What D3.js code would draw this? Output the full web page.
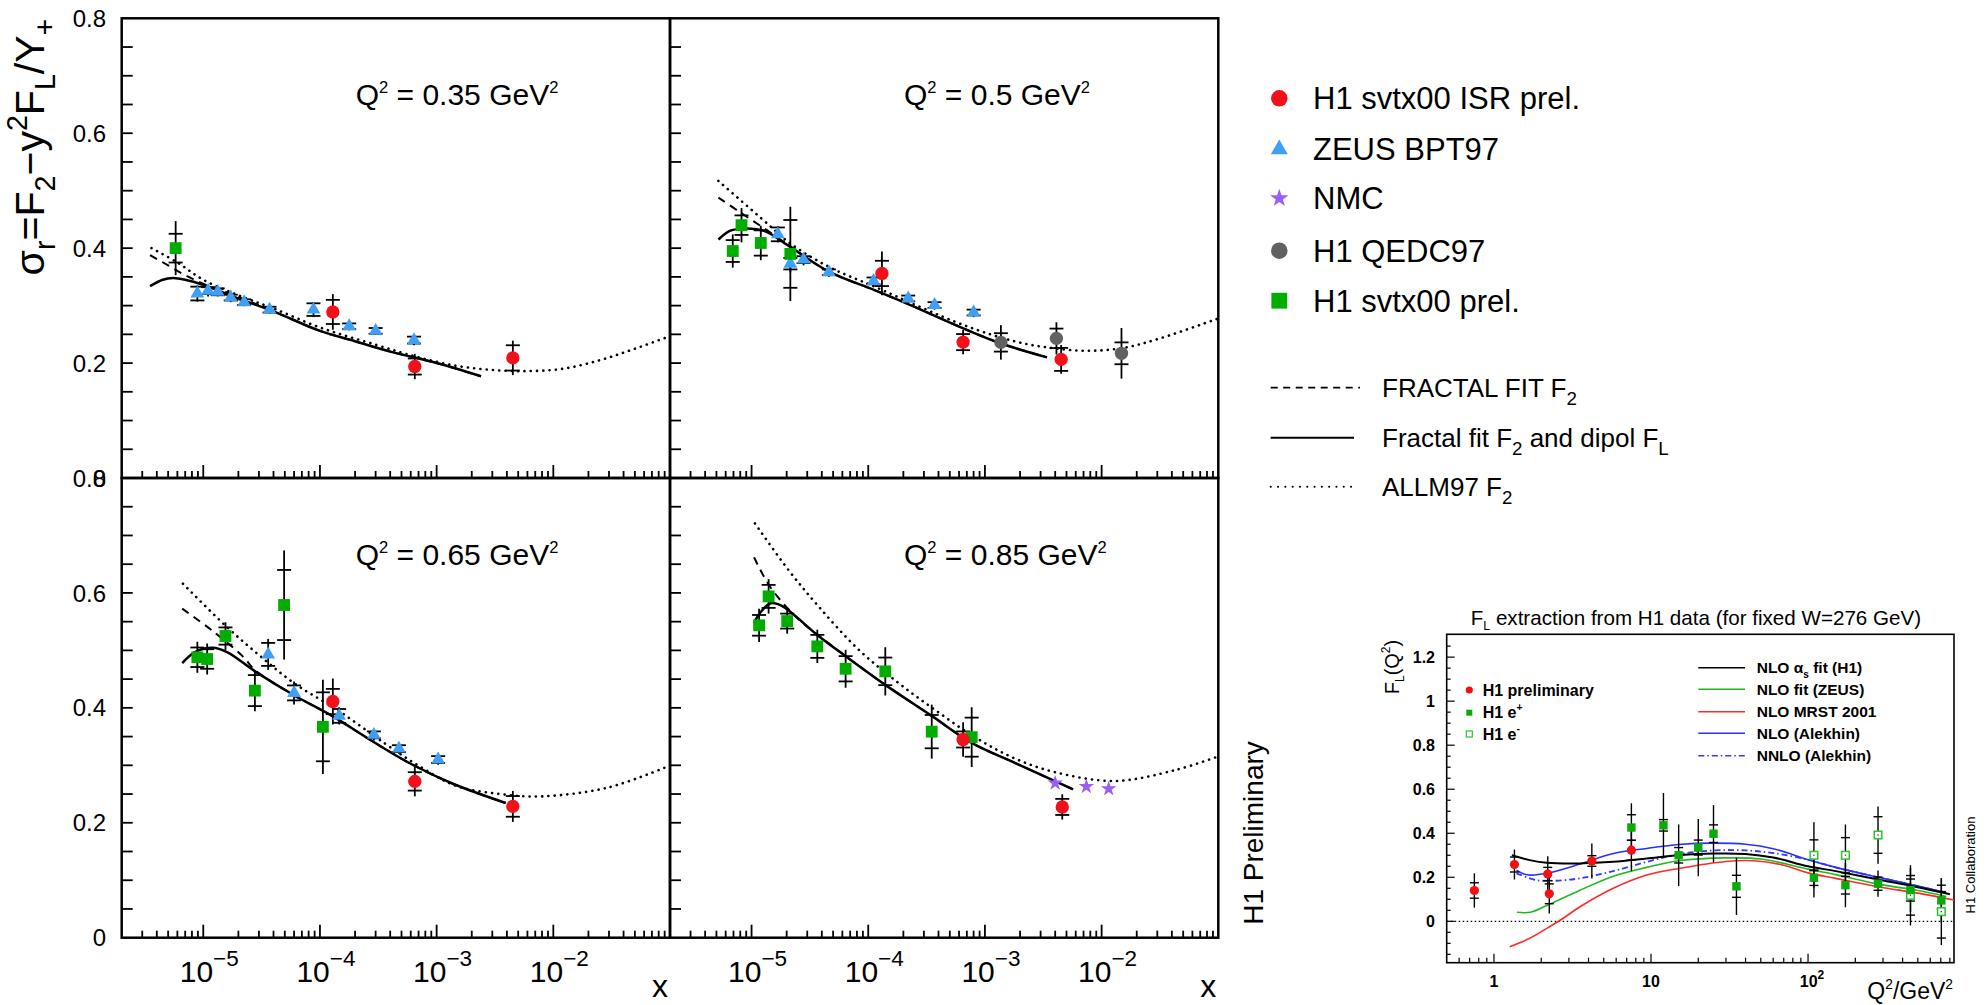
<!DOCTYPE html>
<html>
<head>
<meta charset="utf-8">
<title>Reduced cross section at low Q2 and FL extraction</title>
<script src="https://cdn.jsdelivr.net/npm/d3@7/dist/d3.min.js"></script>
<style>
  html,body{margin:0;padding:0;background:#fff;}
  svg{display:block;}
  text{font-family:"Liberation Sans",Arial,Helvetica,sans-serif;fill:#000;}
</style>
</head>
<body>
<svg id="chart" width="1988" height="1005"></svg>
<script>
// ===== reduced cross section sigma_r versus x =====
// measured points: [x, sigma_r, stat error, total error]
// model curves:    [x, sigma_r]

// Q2 = 0.35 GeV2
const q035_isr  = [[1.29e-4,0.289,0.021,0.031],[6.5e-4,0.194,0.014,0.022],[4.5e-3,0.209,0.022,0.030]];
const q035_zeus = [[8.9e-6,0.321,0.012,0.014],[1.1e-5,0.326,0.006,0.010],[1.33e-5,0.324,0.006,0.008],[1.72e-5,0.314,0.005,0.008],[2.24e-5,0.306,0.005,0.007],[3.7e-5,0.293,0.005,0.007],[8.8e-5,0.293,0.011,0.013],[1.78e-4,0.264,0.005,0.007],[3.0e-4,0.256,0.005,0.007],[6.4e-4,0.240,0.006,0.009]];
const q035_nmc  = [];
const q035_qedc = [];
const q035_svtx = [[5.8e-6,0.400,0.025,0.047]];
const q035_dipol   = [[3.5e-6,0.334],[4.5e-6,0.345],[5.5e-6,0.348],[7e-6,0.345],[1e-5,0.336],[2e-5,0.312],[4e-5,0.290],[1e-4,0.256],[2e-4,0.238],[4e-4,0.220],[1e-3,0.200],[2.4e-3,0.177]];
const q035_fractal = [[3.5e-6,0.388],[5e-6,0.370],[7e-6,0.353],[1e-5,0.338],[1.5e-5,0.325]];
const q035_allm    = [[3.6e-6,0.400],[6e-6,0.375],[1e-5,0.345],[2e-5,0.318],[4e-5,0.295],[1e-4,0.262],[3e-4,0.232],[7e-4,0.210],[1.5e-3,0.195],[3e-3,0.188],[6e-3,0.186],[1.2e-2,0.190],[2.5e-2,0.205],[5e-2,0.225],[0.1,0.247]];

// Q2 = 0.5 GeV2
const q050_isr  = [[1.31e-4,0.356,0.022,0.038],[6.5e-4,0.2365,0.014,0.021],[4.5e-3,0.2064,0.020,0.025]];
const q050_zeus = [[1.68e-5,0.424,0.012,0.014],[2.15e-5,0.373,0.010,0.015],[2.79e-5,0.380,0.006,0.010],[4.6e-5,0.358,0.005,0.008],[1.11e-4,0.343,0.006,0.010],[2.2e-4,0.3125,0.005,0.008],[3.7e-4,0.301,0.005,0.008],[8.0e-4,0.288,0.005,0.008]];
const q050_nmc  = [];
const q050_qedc = [[1.37e-3,0.236,0.016,0.030],[4.1e-3,0.243,0.017,0.028],[1.48e-2,0.217,0.019,0.044]];
const q050_svtx = [[6.9e-6,0.395,0.019,0.029],[8.2e-6,0.440,0.017,0.030],[1.2e-5,0.409,0.022,0.030],[2.15e-5,0.390,0.059,0.082]];
const q050_dipol   = [[5.2e-6,0.415],[6.5e-6,0.430],[8.3e-6,0.434],[1.1e-5,0.433],[1.36e-5,0.428],[2.15e-5,0.402],[4.6e-5,0.359],[1.13e-4,0.327],[2.3e-4,0.301],[6.6e-4,0.260],[1.38e-3,0.234],[3.4e-3,0.210]];
const q050_fractal = [[5.2e-6,0.488],[8.3e-6,0.460],[1.36e-5,0.431],[2.15e-5,0.403]];
const q050_allm    = [[5.2e-6,0.517],[1.36e-5,0.443],[2.15e-5,0.408],[4.6e-5,0.3675],[1.13e-4,0.333],[6.6e-4,0.266],[1.87e-3,0.237],[3.5e-3,0.227],[7.2e-3,0.2214],[1.5e-2,0.226],[3.16e-2,0.243],[0.1,0.2777]];

// Q2 = 0.65 GeV2
const q065_isr  = [[1.29e-4,0.411,0.022,0.040],[6.5e-4,0.272,0.016,0.026],[4.5e-3,0.2285,0.018,0.027]];
const q065_zeus = [[3.6e-5,0.493,0.020,0.027],[6.0e-5,0.426,0.013,0.020],[1.46e-4,0.386,0.012,0.015],[2.9e-4,0.353,0.006,0.010],[4.75e-4,0.329,0.006,0.009],[1.03e-3,0.310,0.006,0.009]];
const q065_nmc  = [];
const q065_qedc = [];
const q065_svtx = [[8.9e-6,0.488,0.017,0.027],[1.08e-5,0.485,0.017,0.027],[1.55e-5,0.525,0.015,0.024],[2.77e-5,0.430,0.027,0.036],[4.93e-5,0.579,0.061,0.095],[1.06e-4,0.367,0.060,0.082]];
const q065_dipol   = [[6.6e-6,0.478],[8.5e-6,0.497],[1.2e-5,0.5045],[1.6e-5,0.497],[2.8e-5,0.463],[6.1e-5,0.421],[1.27e-4,0.386],[2.86e-4,0.341],[6.0e-4,0.3027],[1.41e-3,0.267],[3.9e-3,0.2344]];
const q065_fractal = [[6.6e-6,0.5727],[1.2e-5,0.534],[2.18e-5,0.4896],[2.8e-5,0.465]];
const q065_allm    = [[6.7e-6,0.616],[1.55e-5,0.543],[3.08e-5,0.490],[6.1e-5,0.442],[1.45e-4,0.3947],[3.6e-4,0.338],[7.3e-4,0.297],[1.48e-3,0.264],[3.5e-3,0.250],[8.0e-3,0.246],[2.9e-2,0.261],[0.093,0.297]];

// Q2 = 0.85 GeV2
const q085_isr  = [[6.5e-4,0.345,0.014,0.030],[4.6e-3,0.2276,0.014,0.022]];
const q085_zeus = [];
const q085_nmc  = [[4.0e-3,0.269,0,0],[7.4e-3,0.263,0,0],[1.15e-2,0.259,0,0]];
const q085_qedc = [];
const q085_svtx = [[1.16e-5,0.5436,0.018,0.029],[1.4e-5,0.594,0.020,0.030],[2.02e-5,0.551,0.013,0.022],[3.66e-5,0.507,0.020,0.029],[6.4e-5,0.468,0.022,0.033],[1.4e-4,0.4635,0.024,0.042],[3.5e-4,0.3586,0.029,0.047],[7.7e-4,0.349,0.034,0.052]];
const q085_dipol   = [[1.05e-5,0.548],[1.2e-5,0.567],[1.46e-5,0.582],[1.8e-5,0.578],[2.16e-5,0.567],[3.7e-5,0.526],[6.4e-5,0.490],[1.4e-4,0.440],[3.5e-4,0.386],[7.7e-4,0.339],[1.84e-3,0.3035],[5.7e-3,0.258]];
const q085_fractal = [[1.05e-5,0.662],[1.46e-5,0.609],[2.5e-5,0.555],[3.7e-5,0.527]];
const q085_allm    = [[1.07e-5,0.721],[2.07e-5,0.640],[3.7e-5,0.578],[8.1e-5,0.503],[1.77e-4,0.445],[3.88e-4,0.394],[8.5e-4,0.347],[1.8e-3,0.312],[4.0e-3,0.288],[1.3e-2,0.2727],[4.25e-2,0.2916],[0.094,0.3136]];

const q2Labels = ["0.35", "0.5", "0.65", "0.85"];
const xDecades = [-5, -4, -3, -2];
const yTickLabels = [0, 0.2, 0.4, 0.6, 0.8];

// ===== FL(Q2) at fixed W = 276 GeV =====
// points: [Q2, FL, stat, total]; curves: [Q2, FL]
const fl_prelim = [[0.75,0.140,0.035,0.078],[1.35,0.258,0.034,0.068],[2.2,0.215,0.030,0.080],[2.25,0.125,0.045,0.090],[4.2,0.274,0.024,0.080],[7.5,0.323,0.045,0.095]];
const fl_eplus  = [[7.5,0.426,0.058,0.110],[12,0.436,0.026,0.147],[15,0.300,0.035,0.140],[20,0.335,0.034,0.130],[25,0.398,0.040,0.130],[35,0.159,0.050,0.130],[109,0.198,0.035,0.090],[173,0.164,0.040,0.100],[279,0.171,0.030,0.060],[449,0.142,0.050,0.100],[706,0.095,0.040,0.100]];
const fl_eminus = [[109,0.300,0.070,0.150],[173,0.300,0.080,0.140],[279,0.392,0.083,0.130],[449,0.118,0.090,0.137],[706,0.044,0.120,0.152]];
const fl_nloH1     = [[1.3,0.300],[1.69,0.278],[2.17,0.266],[3.53,0.263],[5.75,0.270],[9.4,0.285],[15,0.300],[25,0.308],[40,0.306],[60,0.290],[100,0.250],[150,0.228],[280,0.190],[500,0.155],[800,0.123]];
const fl_nloZeus   = [[1.4,0.041],[1.7,0.041],[2.17,0.072],[3.5,0.140],[5.75,0.205],[9.4,0.245],[15,0.275],[30,0.288],[50,0.283],[100,0.237],[150,0.212],[280,0.169],[500,0.140],[760,0.113]];
const fl_mrst      = [[1.26,-0.115],[1.69,-0.077],[2.17,-0.032],[2.76,0.014],[3.53,0.066],[5.75,0.150],[9.4,0.210],[15,0.240],[30,0.272],[45,0.275],[70,0.255],[100,0.220],[150,0.195],[280,0.157],[500,0.128],[850,0.097]];
const fl_alekhin   = [[1.39,0.232],[1.55,0.215],[1.7,0.210],[2.17,0.218],[3.53,0.260],[5.75,0.308],[9.4,0.331],[15,0.349],[25,0.355],[40,0.350],[60,0.330],[100,0.280],[150,0.245],[280,0.200],[500,0.160],[760,0.130]];
const fl_alekhinNN = [[1.39,0.218],[1.87,0.187],[2.4,0.184],[3.5,0.195],[5.75,0.228],[9.4,0.270],[15,0.305],[25,0.322],[40,0.322],[60,0.310],[100,0.280],[150,0.245],[280,0.200],[500,0.160],[760,0.130]];
const flYTicks  = [0, 0.2, 0.4, 0.6, 0.8, 1, 1.2];
const flXLabels = [1, 10, 100];

// ===== drawing =====
const svg = d3.select("#chart");
const COL = {isr:"#f2101a", zeus:"#3f9ff5", nmc:"#9c5df7", qedc:"#616161", svtx:"#00ad00"};

// text with sub/superscripts built from [string, kind] parts
function rich(t, parts, fs, opt = {}) {
  const sc = opt.scale || 0.68, up = opt.up || 0.42, dn = opt.dn || 0.25;
  let shift = 0;
  parts.forEach(([s, k]) => {
    const target = k === "sub" ? dn * fs : k === "sup" ? -up * fs : 0;
    t.append("tspan").attr("dy", target - shift)
      .attr("font-size", k === "n" ? fs : fs * sc).text(s);
    shift = target;
  });
  return t;
}

function symbolPath(kind, size) {
  const types = {circle:d3.symbolCircle, tri:d3.symbolTriangle, star:d3.symbolStar, square:d3.symbolSquare};
  return d3.symbol().type(types[kind]).size(size)();
}

const PW = 548.3, PH = 459.7;
const boxes = [{x:121.7,y:18.3,row:0,col:0},{x:670,y:18.3,row:0,col:1},{x:121.7,y:478,row:1,col:0},{x:670,y:478,row:1,col:1}];
const panelData = [
  {isr:q035_isr, zeus:q035_zeus, nmc:q035_nmc, qedc:q035_qedc, svtx:q035_svtx, dipol:q035_dipol, fractal:q035_fractal, allm:q035_allm},
  {isr:q050_isr, zeus:q050_zeus, nmc:q050_nmc, qedc:q050_qedc, svtx:q050_svtx, dipol:q050_dipol, fractal:q050_fractal, allm:q050_allm},
  {isr:q065_isr, zeus:q065_zeus, nmc:q065_nmc, qedc:q065_qedc, svtx:q065_svtx, dipol:q065_dipol, fractal:q065_fractal, allm:q065_allm},
  {isr:q085_isr, zeus:q085_zeus, nmc:q085_nmc, qedc:q085_qedc, svtx:q085_svtx, dipol:q085_dipol, fractal:q085_fractal, allm:q085_allm}
];
const marker = {isr:["circle",140], zeus:["tri",82], nmc:["star",75], qedc:["circle",140], svtx:["square",140]};

boxes.forEach((b, i) => {
  const d = panelData[i];
  const g = svg.append("g");
  const xs = d3.scaleLog().domain([2e-6, 0.1]).range([b.x, b.x + PW]);
  const ys = d3.scaleLinear().domain([0, 0.8]).range([b.y + PH, b.y]);
  const line = d3.line().x(p => xs(p[0])).y(p => ys(p[1])).curve(d3.curveCatmullRom.alpha(0.5));

  // y ticks (left side, inward)
  d3.range(1, 16).map(k => k * 0.05).forEach(v => {
    g.append("line").attr("x1", b.x).attr("x2", b.x + 11).attr("y1", ys(v)).attr("y2", ys(v))
      .attr("stroke", "#000").attr("stroke-width", 1.8);
  });
  // x ticks (bottom, inward)
  for (let e = -6; e <= -1; e++) {
    for (let m = 1; m <= 9; m++) {
      const v = m * Math.pow(10, e);
      if (v <= 2.0001e-6 || v >= 0.0999) continue;
      const len = m === 1 ? 13 : 7;
      g.append("line").attr("x1", xs(v)).attr("x2", xs(v)).attr("y1", b.y + PH).attr("y2", b.y + PH - len)
        .attr("stroke", "#000").attr("stroke-width", 1.8);
    }
  }
  // frame
  g.append("rect").attr("x", b.x).attr("y", b.y).attr("width", PW).attr("height", PH)
    .attr("fill", "none").attr("stroke", "#000").attr("stroke-width", 2.5);

  // model curves
  const lastHead = d.fractal[d.fractal.length - 1][0];
  const fractalFull = d.fractal.concat(d.dipol.filter(p => p[0] > lastHead * 1.6));
  g.append("path").attr("d", line(d.allm)).attr("fill", "none").attr("stroke", "#000")
    .attr("stroke-width", 2.6).attr("stroke-dasharray", "0.1,6.2").attr("stroke-linecap", "round");
  g.append("path").attr("d", line(fractalFull)).attr("fill", "none").attr("stroke", "#000")
    .attr("stroke-width", 2).attr("stroke-dasharray", "8,6");
  g.append("path").attr("d", line(d.dipol)).attr("fill", "none").attr("stroke", "#000").attr("stroke-width", 2.5);

  // error bars then markers
  ["zeus", "qedc", "svtx", "isr", "nmc"].forEach(key => {
    d[key].forEach(p => {
      const cx = xs(p[0]);
      if (p[3] > 0) {
        g.append("line").attr("x1", cx).attr("x2", cx).attr("y1", ys(p[1] - p[3])).attr("y2", ys(p[1] + p[3]))
          .attr("stroke", "#000").attr("stroke-width", 1.8);
        [p[1] - p[2], p[1] + p[2]].forEach(v => {
          g.append("line").attr("x1", cx - 7).attr("x2", cx + 7).attr("y1", ys(v)).attr("y2", ys(v))
            .attr("stroke", "#000").attr("stroke-width", 1.8);
        });
      }
    });
  });
  ["zeus", "qedc", "svtx", "isr", "nmc"].forEach(key => {
    d[key].forEach(p => {
      g.append("path").attr("d", symbolPath(marker[key][0], marker[key][1]))
        .attr("transform", `translate(${xs(p[0])},${ys(p[1])})`).attr("fill", COL[key]);
    });
  });

  // Q2 label
  rich(g.append("text").attr("x", b.x + 234).attr("y", b.y + 87),
    [["Q","n"],["2","sup"],[" = " + q2Labels[i] + " GeV","n"],["2","sup"]], 30, {scale:0.55, up:0.4});

  // y tick labels on the left column
  if (b.col === 0) {
    yTickLabels.forEach(v => {
      g.append("text").attr("x", 106).attr("y", ys(v)).attr("dy", "0.36em")
        .attr("text-anchor", "end").attr("font-size", 24).text(v === 0 ? "0" : v.toFixed(1));
    });
  }
  // x tick labels and axis title on the bottom row
  if (b.row === 1) {
    xDecades.forEach(e => {
      rich(g.append("text").attr("x", xs(Math.pow(10, e)) + 6).attr("y", 982).attr("text-anchor", "middle"),
        [["10","n"],["\u2212" + (-e),"sup"]], 30, {scale:0.75, up:0.52});
    });
    g.append("text").attr("x", b.x + PW - 2).attr("y", 997).attr("text-anchor", "end")
      .attr("font-size", 32).text("x");
  }
});

// y-axis title
rich(svg.append("text").attr("transform", "translate(44,147) rotate(-90)").attr("text-anchor", "middle"),
  [["\u03c3","n"],["r","sub"],["=F","n"],["2","sub"],["\u2212y","n"],["2","sup"],["F","n"],["L","sub"],["/Y","n"],["+","sub"]], 41, {scale:0.7, up:0.42, dn:0.28});

// "H1 Preliminary"
svg.append("text").attr("transform", "translate(1263,833) rotate(-90)").attr("text-anchor", "middle")
  .attr("font-size", 28).text("H1 Preliminary");

// data legend
const dataLegend = [["isr","H1 svtx00 ISR prel."],["zeus","ZEUS BPT97"],["nmc","NMC"],["qedc","H1 QEDC97"],["svtx","H1 svtx00 prel."]];
const legSize = {isr:["circle",215], zeus:["tri",125], nmc:["star",105], qedc:["circle",215], svtx:["square",250]};
const legRowY = [98.3, 149.3, 198.3, 250.7, 300.7];
dataLegend.forEach(([key, label], k) => {
  svg.append("path").attr("d", symbolPath(legSize[key][0], legSize[key][1]))
    .attr("transform", `translate(1279.3,${legRowY[k]})`).attr("fill", COL[key]);
  svg.append("text").attr("x", 1313).attr("y", legRowY[k]).attr("dy", "0.36em")
    .attr("font-size", 31).text(label);
});

// curve legend
const curveLegend = [
  {dash:"7,5.5", w:1.8, y:387.7, x2:1360, cap:"butt", parts:[["FRACTAL FIT F","n"],["2","sub"]]},
  {dash:null, w:2, y:437.7, x2:1354, cap:"butt", parts:[["Fractal fit F","n"],["2","sub"],[" and dipol F","n"],["L","sub"]]},
  {dash:"0.1,7.2", w:2, y:486.7, x2:1357, cap:"round", parts:[["ALLM97 F","n"],["2","sub"]]}
];
curveLegend.forEach(c => {
  const l = svg.append("line").attr("x1", 1270.7).attr("x2", c.x2).attr("y1", c.y).attr("y2", c.y)
    .attr("stroke", "#000").attr("stroke-width", c.w).attr("stroke-linecap", c.cap);
  if (c.dash) l.attr("stroke-dasharray", c.dash);
  rich(svg.append("text").attr("x", 1382).attr("y", c.y + 9.5), c.parts, 26, {scale:0.72, dn:0.3});
});

// ===== FL inset =====
const I = {x0:1446.7, x1:1954, y0:634.3, y1:962.7};
const fx = d3.scaleLog().domain([0.5, 850]).range([I.x0, I.x1]);
const fy = d3.scaleLinear().domain([-0.188, 1.3037]).range([I.y1, I.y0]);
const fline = d3.line().x(p => fx(p[0])).y(p => fy(p[1])).curve(d3.curveCatmullRom.alpha(0.5));
const ig = svg.append("g");

// ticks
d3.range(-3, 27).map(k => k * 0.05).forEach(v => {
  if (fy(v) > I.y1 - 1 || fy(v) < I.y0 + 1) return;
  const major = Math.abs(v * 5 - Math.round(v * 5)) < 1e-6;
  ig.append("line").attr("x1", I.x0).attr("x2", I.x0 + (major ? 8 : 4)).attr("y1", fy(v)).attr("y2", fy(v))
    .attr("stroke", "#000").attr("stroke-width", 1.2);
});
for (let e = -1; e <= 2; e++) {
  for (let m = 1; m <= 9; m++) {
    const v = m * Math.pow(10, e);
    if (v <= 0.5001 || v >= 849) continue;
    ig.append("line").attr("x1", fx(v)).attr("x2", fx(v)).attr("y1", I.y1).attr("y2", I.y1 - (m === 1 ? 9 : 5))
      .attr("stroke", "#000").attr("stroke-width", 1.2);
  }
}
ig.append("rect").attr("x", I.x0).attr("y", I.y0).attr("width", I.x1 - I.x0).attr("height", I.y1 - I.y0)
  .attr("fill", "none").attr("stroke", "#000").attr("stroke-width", 1.6);
ig.append("line").attr("x1", I.x0).attr("x2", I.x1).attr("y1", fy(0)).attr("y2", fy(0))
  .attr("stroke", "#000").attr("stroke-width", 1.2).attr("stroke-dasharray", "1.5,2.5");

// tick labels
flYTicks.forEach(v => {
  ig.append("text").attr("x", 1435).attr("y", fy(v)).attr("dy", "0.36em").attr("text-anchor", "end")
    .attr("font-size", 16).attr("font-weight", "bold").text(v === 0 || v === 1 ? String(v) : v.toFixed(1));
});
flXLabels.forEach(v => {
  const t = ig.append("text").attr("x", fx(v) + (v === 100 ? 4 : 0)).attr("y", 987).attr("text-anchor", "middle")
    .attr("font-size", 16).attr("font-weight", "bold");
  if (v === 100) rich(t, [["10","n"],["2","sup"]], 16, {scale:0.75, up:0.5});
  else t.text(String(v));
});
rich(ig.append("text").attr("x", 1953).attr("y", 999).attr("text-anchor", "end"),
  [["Q","n"],["2","sup"],["/GeV","n"],["2","sup"]], 23, {scale:0.6, up:0.45});
rich(ig.append("text").attr("transform", "translate(1399,667) rotate(-90)").attr("text-anchor", "middle"),
  [["F","n"],["L","sub"],["(Q","n"],["2","sup"],[")","n"]], 20, {scale:0.6, up:0.45});
rich(ig.append("text").attr("x", 1470.7).attr("y", 625),
  [["F","n"],["L","sub"],[" extraction from H1 data (for fixed W=276 GeV)","n"]], 20.6, {scale:0.6});
ig.append("text").attr("transform", "translate(1975,865) rotate(-90)").attr("text-anchor", "middle")
  .attr("font-size", 13).attr("fill", "#222").text("H1 Collaboration");

// curves
const flCurves = [
  {d:fl_mrst, c:"#ff2a2a", w:1.6, dash:null},
  {d:fl_nloZeus, c:"#1fba1f", w:1.6, dash:null},
  {d:fl_alekhinNN, c:"#2f3bff", w:1.8, dash:"6,3,1.5,3"},
  {d:fl_alekhin, c:"#2630ff", w:1.6, dash:null},
  {d:fl_nloH1, c:"#000", w:2, dash:null}
];
flCurves.forEach(c => {
  const p = ig.append("path").attr("d", fline(c.d)).attr("fill", "none").attr("stroke", c.c).attr("stroke-width", c.w);
  if (c.dash) p.attr("stroke-dasharray", c.dash);
});

// measured FL points
const flSets = [{d:fl_eminus, k:"open"}, {d:fl_eplus, k:"fill"}, {d:fl_prelim, k:"dot"}];
flSets.forEach(s => s.d.forEach(p => {
  const cx = fx(p[0]);
  ig.append("line").attr("x1", cx).attr("x2", cx).attr("y1", fy(p[1] - p[3])).attr("y2", fy(p[1] + p[3]))
    .attr("stroke", "#000").attr("stroke-width", 1.4);
  [p[1] - p[2], p[1] + p[2]].forEach(v => ig.append("line").attr("x1", cx - 4.5).attr("x2", cx + 4.5)
    .attr("y1", fy(v)).attr("y2", fy(v)).attr("stroke", "#000").attr("stroke-width", 1.4));
}));
flSets.forEach(s => s.d.forEach(p => {
  const cx = fx(p[0]), cy = fy(p[1]);
  if (s.k === "dot") ig.append("circle").attr("cx", cx).attr("cy", cy).attr("r", 4.6).attr("fill", "#f21010");
  else if (s.k === "fill") ig.append("rect").attr("x", cx - 4.2).attr("y", cy - 4.2).attr("width", 8.4).attr("height", 8.4).attr("fill", "#0aaa0a");
  else {
    ig.append("rect").attr("x", cx - 3.8).attr("y", cy - 3.8).attr("width", 7.6).attr("height", 7.6)
      .attr("fill", "#fff").attr("stroke", "#2cc42c").attr("stroke-width", 1.5);
    ig.append("circle").attr("cx", cx).attr("cy", cy).attr("r", 0.8).attr("fill", "#444");
  }
}));

// inset legends
const flPointLegend = [
  {y:690, k:"dot", parts:[["H1 preliminary","n"]]},
  {y:712.7, k:"fill", parts:[["H1 e","n"],["+","sup"]]},
  {y:734, k:"open", parts:[["H1 e","n"],["-","sup"]]}
];
flPointLegend.forEach(r => {
  if (r.k === "dot") ig.append("circle").attr("cx", 1469.3).attr("cy", r.y).attr("r", 3.6).attr("fill", "#f21010");
  else if (r.k === "fill") ig.append("rect").attr("x", 1466.3).attr("y", r.y - 3).attr("width", 6).attr("height", 6).attr("fill", "#0aaa0a");
  else ig.append("rect").attr("x", 1466.3).attr("y", r.y - 3).attr("width", 6).attr("height", 6)
    .attr("fill", "none").attr("stroke", "#2cc42c").attr("stroke-width", 1.2);
  rich(ig.append("text").attr("x", 1482.7).attr("y", r.y + 5.6).attr("font-weight", "bold"), r.parts, 16, {scale:0.65, up:0.45});
});
const flLineLegend = [
  {y:667.7, c:"#000", dash:null, parts:[["NLO ","n"],["\u03b1","n"],["s","sub"],[" fit (H1)","n"]]},
  {y:689.3, c:"#1fba1f", dash:null, parts:[["NLO fit (ZEUS)","n"]]},
  {y:711.7, c:"#ff2a2a", dash:null, parts:[["NLO MRST 2001","n"]]},
  {y:733.3, c:"#2630ff", dash:null, parts:[["NLO (Alekhin)","n"]]},
  {y:755.7, c:"#2f3bff", dash:"6,3,1.5,3", parts:[["NNLO (Alekhin)","n"]]}
];
flLineLegend.forEach(r => {
  const l = ig.append("line").attr("x1", 1698.3).attr("x2", 1745).attr("y1", r.y).attr("y2", r.y)
    .attr("stroke", r.c).attr("stroke-width", 1.6);
  if (r.dash) l.attr("stroke-dasharray", r.dash);
  rich(ig.append("text").attr("x", 1756.7).attr("y", r.y + 5.5).attr("font-weight", "bold"), r.parts, 15.5, {scale:0.65, dn:0.3});
});
</script>
</body>
</html>
